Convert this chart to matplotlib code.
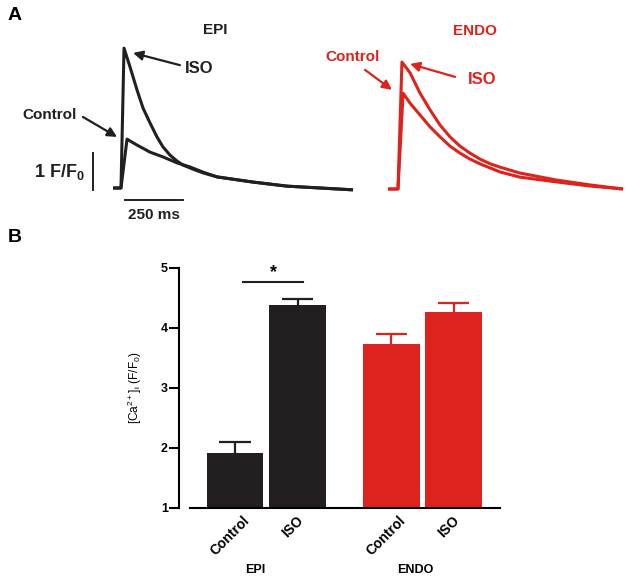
import matplotlib

matplotlib.use("Agg")
import matplotlib.pyplot as plt
from matplotlib.transforms import ScaledTranslation

plt.rcParams["font.family"] = ["Liberation Sans", "DejaVu Sans"]
plt.rcParams["mathtext.default"] = "regular"

BLACK = "#231f20"
RED = "#dc231d"

# panel A: Ca2+ transients (time in ms, amplitude in F/F0)
epi_iso_t = [-34, 0, 13, 39, 69, 95, 125, 155, 181, 211, 241, 267, 310, 353, 414, 569, 716, 858, 1000]
epi_iso_f = [0, 0, 3.78, 3.27, 2.65, 2.16, 1.76, 1.38, 1.11, 0.89, 0.73, 0.62, 0.51, 0.41, 0.30, 0.16, 0.05, 0.0, -0.05]
epi_ctrl_t = [-34, 0, 26, 69, 125, 181, 241, 297, 353, 414, 569, 716, 858, 1000]
epi_ctrl_f = [0, 0, 1.32, 1.16, 0.97, 0.84, 0.68, 0.57, 0.43, 0.30, 0.16, 0.05, 0.0, -0.05]
endo_iso_t = [-43, 0, 17, 52, 95, 138, 181, 224, 267, 310, 353, 397, 440, 526, 685, 828, 970]
endo_iso_f = [0, 0, 3.43, 3.14, 2.59, 2.14, 1.73, 1.41, 1.16, 0.97, 0.81, 0.68, 0.59, 0.43, 0.24, 0.11, 0.0]
endo_ctrl_t = [-43, 0, 22, 52, 95, 138, 181, 224, 267, 310, 353, 397, 440, 526, 685, 828, 970]
endo_ctrl_f = [0, 0, 2.59, 2.32, 2.0, 1.68, 1.41, 1.16, 0.97, 0.81, 0.68, 0.57, 0.46, 0.32, 0.19, 0.08, 0.0]

# panel B: peak [Ca2+]i, mean and SEM
conditions = ["Control", "ISO"]
groups = ["EPI", "ENDO"]
epi_mean = [1.92, 4.38]
epi_sem = [0.18, 0.10]
endo_mean = [3.73, 4.27]
endo_sem = [0.17, 0.15]

W, H = 629, 579
fig = plt.figure(figsize=(W / 100, H / 100), dpi=100)

PX_PER_MS = 58 / 250
PX_PER_F = 37


def trace_axes(x0, x1, y0, y1, t0_px, base_px):
    ax = fig.add_axes([x0 / W, 1 - y1 / H, (x1 - x0) / W, (y1 - y0) / H])
    ax.set_xlim((x0 - t0_px) / PX_PER_MS, (x1 - t0_px) / PX_PER_MS)
    ax.set_ylim((base_px - y1) / PX_PER_F, (base_px - y0) / PX_PER_F)
    ax.axis("off")
    return ax


def arrow(ax, head, tail, color):
    ax.annotate("", xy=head, xytext=tail,
                arrowprops=dict(arrowstyle="-|>", color=color, lw=1.6,
                                mutation_scale=14, shrinkA=0, shrinkB=0))


bold = dict(fontweight="bold")
trace_style = dict(lw=2.2, solid_joinstyle="round", solid_capstyle="butt")

# EPI traces
ax_epi = trace_axes(80, 360, 20, 225, 121, 188)
ax_epi.plot(epi_ctrl_t, epi_ctrl_f, color=BLACK, **trace_style)
ax_epi.plot(epi_iso_t, epi_iso_f, color=BLACK, **trace_style)
ax_epi.text(405, 4.27, "EPI", ha="center", va="center", fontsize=11, color=BLACK, **bold)
ax_epi.text(336, 3.24, "ISO", ha="center", va="center", fontsize=12, color=BLACK, **bold)
arrow(ax_epi, (52, 3.65), (254, 3.32), BLACK)
ax_epi.text(-306, 1.97, "Control", ha="center", va="center", fontsize=11, color=BLACK, **bold)
arrow(ax_epi, (-17, 1.38), (-164, 1.92), BLACK)
# scale bars
ax_epi.plot([-121, -121], [-0.05, 0.95], color=BLACK, lw=1.4)
ax_epi.plot([17, 267], [-0.32, -0.32], color=BLACK, lw=1.4)
ax_epi.text(142, -0.73, "250 ms", ha="center", va="center", fontsize=11, color=BLACK, **bold)
ax_epi.text(-155, 0.42, "1 F/F$_0$", ha="right", va="center", fontsize=13, color=BLACK, **bold)

# ENDO traces
ax_endo = trace_axes(370, 629, 20, 225, 398, 189)
ax_endo.plot(endo_ctrl_t, endo_ctrl_f, color=RED, **trace_style)
ax_endo.plot(endo_iso_t, endo_iso_f, color=RED, **trace_style)
ax_endo.text(332, 4.27, "ENDO", ha="center", va="center", fontsize=11, color=RED, **bold)
ax_endo.text(-198, 3.57, "Control", ha="center", va="center", fontsize=11, color=RED, **bold)
arrow(ax_endo, (-26, 2.68), (-142, 3.22), RED)
ax_endo.text(362, 2.95, "ISO", ha="center", va="center", fontsize=12, color=RED, **bold)
arrow(ax_endo, (52, 3.38), (246, 3.03), RED)

fig.text(8 / W, 1 - 15 / H, "A", fontsize=14, va="center", ha="left", **bold)
fig.text(8 / W, 1 - 238 / H, "B", fontsize=14, va="center", ha="left", **bold)

# panel B bars
ax = fig.add_axes([190 / W, 1 - 508 / H, 310 / W, 240 / H])
pos = [0, 1, 2.5, 3.5]
means = epi_mean + endo_mean
sems = epi_sem + endo_sem
colors = [BLACK, BLACK, RED, RED]
cap = 0.25
for x, m, s, c in zip(pos, means, sems, colors):
    ax.bar(x, m - 1, bottom=1, width=0.91, color=c, zorder=2)
    ax.vlines(x, m - 0.05, m + s, color=c, lw=1.6, zorder=1)
    ax.hlines(m + s, x - cap, x + cap, color=c, lw=1.6, zorder=1)
ax.set_xlim(-0.72, 4.24)
ax.set_ylim(1, 5)
ax.spines[["top", "right"]].set_visible(False)
ax.spines["left"].set_position(("outward", 8))
ax.spines["left"].set_linewidth(1.5)
ax.spines["bottom"].set_linewidth(1.5)
ax.set_yticks([1, 2, 3, 4, 5])
ax.tick_params(axis="y", length=7, width=1.5, labelsize=9, pad=1)
ax.tick_params(axis="x", length=0, labelsize=10, pad=4)
for lbl in ax.get_yticklabels():
    lbl.set_fontweight("bold")
ax.set_xticks(pos)
ax.set_xticklabels(conditions * 2, rotation=45, ha="center", fontweight="bold")
shift = ScaledTranslation(-5 / 100, 0, fig.dpi_scale_trans)
for lbl in ax.get_xticklabels():
    lbl.set_transform(lbl.get_transform() + shift)
ax.set_ylabel("[Ca$^{2+}$]$_i$ (F/F$_0$)", fontsize=8.6, labelpad=12)

# significance marker
ax.plot([0.13, 1.09], [4.77, 4.77], color=BLACK, lw=1.5)
ax.text(0.61, 4.79, "*", ha="center", va="bottom", fontsize=13, **bold)

for x, g in zip([0.33, 2.88], groups):
    ax.text(x, -0.258, g, transform=ax.get_xaxis_transform(), ha="center",
            va="center", fontsize=9, **bold)

fig.savefig("out.png", dpi=100)
